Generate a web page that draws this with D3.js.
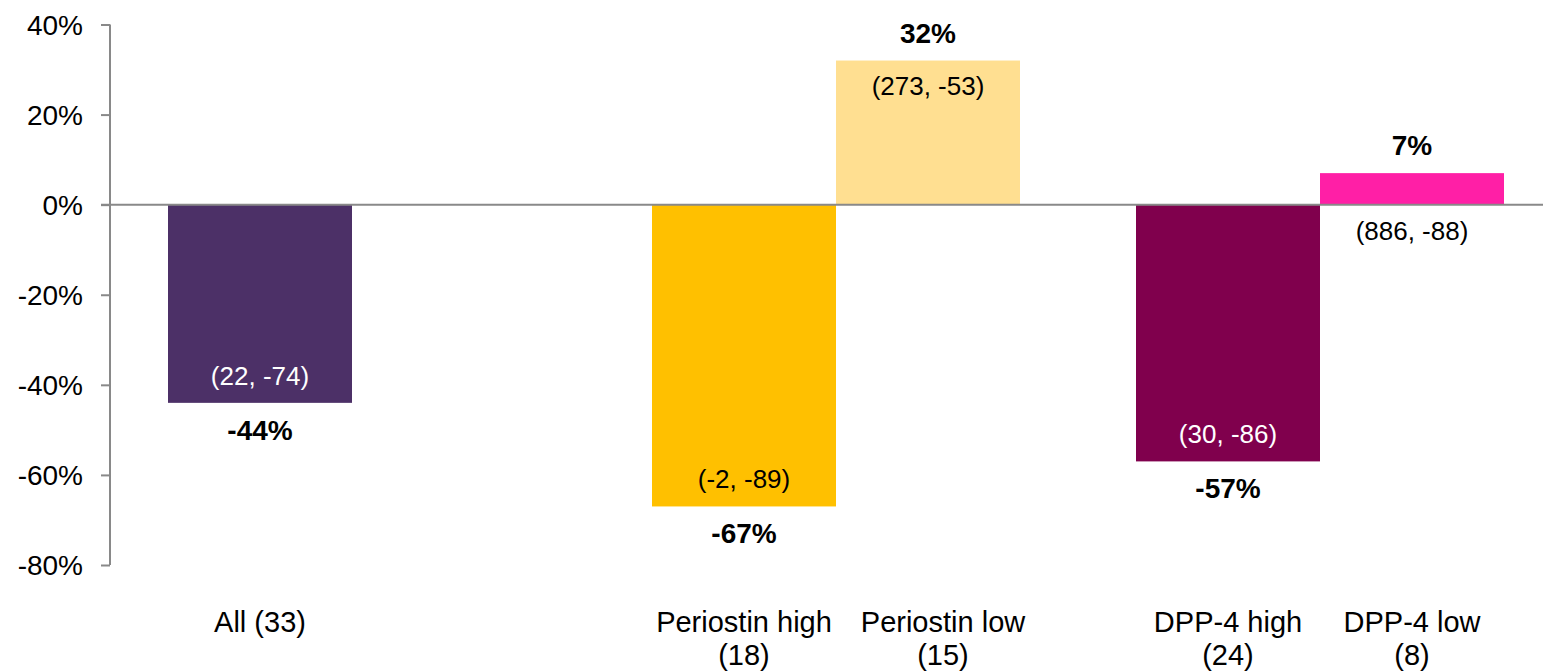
<!DOCTYPE html>
<html>
<head>
<meta charset="utf-8">
<script src="https://cdn.jsdelivr.net/npm/d3@7"></script>
<style>
  html, body { margin: 0; padding: 0; background: #fff; }
  svg { display: block; font-family: "Liberation Sans", Arial, sans-serif; }
</style>
</head>
<body>
<svg id="chart" width="1543" height="672"></svg>
<script>
// ---- data ----
const categories = ["All", "Periostin high", "Periostin low", "DPP-4 high", "DPP-4 low"];
const categoryLines = [["All (33)"], ["Periostin high", "(18)"], ["Periostin low", "(15)"], ["DPP-4 high", "(24)"], ["DPP-4 low", "(8)"]];
const groupIndex = [0, 1, 1, 2, 2];
const slotIndex = [0, 0, 1, 0, 1];
const values = [-44, -67, 32, -57, 7];
const innerLabels = ["(22, -74)", "(-2, -89)", "(273, -53)", "(30, -86)", "(886, -88)"];
const colors = ["#4C3067", "#FFC000", "#FFDF91", "#80004D", "#FF1FA6"];
const innerTextColors = ["#ffffff", "#000000", "#000000", "#ffffff", "#000000"];
const yTicks = [40, 20, 0, -20, -40, -60, -80];

// ---- layout ----
const svg = d3.select("#chart");
const axisColor = "#898989";
const x0 = 110, yTop = 24.5, yBottom = 565;
const labelShift = { 2: 15 }; // category label nudges (layout only)

const y = d3.scaleLinear().domain([-80, 40]).range([yBottom, yTop]);
const pIn = 116 / 484;
const xGroup = d3.scaleBand().domain([0, 1, 2]).range([x0, 1562]).paddingInner(pIn).paddingOuter(pIn / 2);
const xSlot = d3.scaleBand().domain([0, 1]).range([0, xGroup.bandwidth()]);

const data = categories.map((c, i) => ({
  i, name: c, lines: categoryLines[i], g: groupIndex[i], s: slotIndex[i],
  v: values[i], inner: innerLabels[i], color: colors[i], tc: innerTextColors[i]
}));
const bx = d => xGroup(d.g) + xSlot(d.s);
const bw = xSlot.bandwidth();

// bars
svg.append("g").selectAll("rect").data(data).join("rect")
  .attr("x", d => bx(d))
  .attr("width", bw)
  .attr("y", d => y(Math.max(0, d.v)))
  .attr("height", d => Math.abs(y(d.v) - y(0)))
  .attr("fill", d => d.color);

// y axis
const yAxis = d3.axisLeft(y).tickValues(yTicks).tickSize(9).tickFormat(d => d + "%");
const ga = svg.append("g").attr("transform", `translate(${x0},0)`).call(yAxis);
ga.select(".domain").attr("stroke", axisColor).attr("stroke-width", 2).attr("d", `M0,${yTop}V${yBottom}`);
ga.selectAll(".tick line").attr("stroke", axisColor).attr("stroke-width", 2);
ga.selectAll(".tick text").attr("font-size", 28).attr("fill", "#000")
  .attr("font-family", "'Liberation Sans', Arial, sans-serif").attr("x", -27).attr("dy", "0.35em");

// zero line
svg.append("line").attr("x1", x0 - 9).attr("x2", 1543).attr("y1", y(0)).attr("y2", y(0))
  .attr("stroke", axisColor).attr("stroke-width", 2);

// value labels
svg.append("g").selectAll("text").data(data).join("text")
  .attr("x", d => bx(d) + bw / 2)
  .attr("y", d => d.v < 0 ? y(d.v) + 37 : y(d.v) - 18)
  .attr("text-anchor", "middle").attr("font-size", 28).attr("font-weight", "bold")
  .text(d => d.v + "%");

// inner labels
svg.append("g").selectAll("text").data(data).join("text")
  .attr("x", d => bx(d) + bw / 2)
  .attr("y", d => {
    if (d.v < 0) return y(d.v) - 18;
    const h = y(0) - y(d.v);
    return h > 45 ? y(d.v) + 34 : y(0) + 35;
  })
  .attr("text-anchor", "middle").attr("font-size", 26)
  .attr("fill", d => {
    const h = Math.abs(y(0) - y(d.v));
    return h > 45 ? d.tc : "#000";
  })
  .text(d => d.inner);

// category labels
const cl = svg.append("g").selectAll("text").data(data).join("text")
  .attr("text-anchor", "middle").attr("font-size", 29).attr("fill", "#000");
cl.each(function(d) {
  const t = d3.select(this);
  const cx = bx(d) + bw / 2 + (labelShift[d.i] || 0);
  d.lines.forEach((ln, k) => {
    t.append("tspan").attr("x", cx).attr("y", 632 + k * 33).text(ln);
  });
});
</script>
</body>
</html>
